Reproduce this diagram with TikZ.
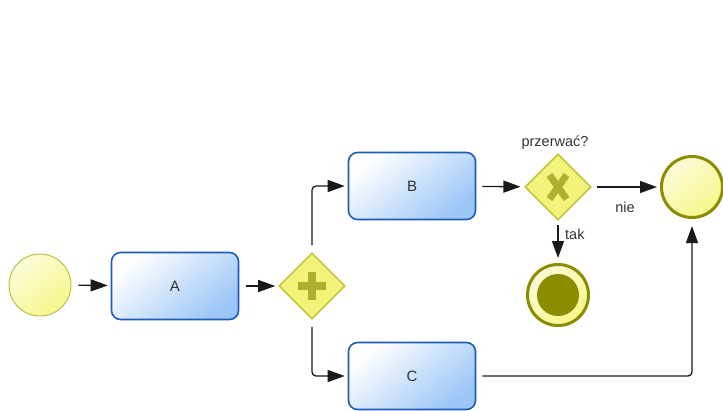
\documentclass[tikz,border=0pt]{standalone}
\usepackage{fontspec}
\setmainfont{Liberation Sans}
\usetikzlibrary{arrows.meta,shapes.geometric}
\definecolor{taskborder}{HTML}{1E5CB8}
\definecolor{taskfill}{HTML}{9CC6F7}
\definecolor{evfill}{HTML}{F6F68A}
\definecolor{evlight}{HTML}{FCFCDA}
\definecolor{evborder}{HTML}{8C8C00}
\definecolor{startborder}{HTML}{B8B840}
\definecolor{gwfill}{HTML}{F3F37C}
\definecolor{gwborder}{HTML}{C4C43C}
\definecolor{gwmark}{HTML}{B0B030}
\definecolor{linecol}{HTML}{1A1A1A}
\definecolor{txt}{HTML}{333333}
\tikzset{
  taskbox/.style={draw=taskborder, line width=1.6pt, rounded corners=9pt,
    minimum width=127pt, minimum height=67pt, inner sep=0pt,
    top color=white, bottom color=taskfill, shading angle=40,
    font=\fontsize{15}{17}\selectfont, text=txt},
  startev/.style={circle, draw=startborder, line width=0.9pt, minimum size=62pt, inner sep=0pt,
    top color=evlight, bottom color=evfill, shading angle=40},
  endev/.style={circle, draw=evborder, line width=3pt, minimum size=61pt, inner sep=0pt,
    top color=evlight, bottom color=evfill, shading angle=40},
  gw/.style={diamond, aspect=1, draw=gwborder, line width=1.6pt, minimum width=66pt, minimum height=66pt,
    inner sep=0pt, fill=gwfill},
  flow/.style={draw=linecol, line width=1.3pt, rounded corners=4pt, -{Triangle[length=17pt,width=12pt]}},
  lbl/.style={font=\fontsize{14.5}{16}\selectfont, text=txt, inner sep=0pt},
  gwsign/.style={draw=gwmark, line width=8pt}
}
\begin{document}
\begin{tikzpicture}[x=1pt,y=-1pt]
\useasboundingbox (0,0) rectangle (723,410);
% nodes
\node[startev] (start) at (40,285) {};
\node[taskbox] (A) at (175,286) {\raisebox{-2pt}{A}};
\node[gw] (pgw) at (312,286) {};
\node[taskbox] (B) at (412,186) {\raisebox{-2pt}{B}};
\node[taskbox] (C) at (412,376) {\raisebox{-2pt}{C}};
\node[gw] (xgw) at (558,187) {};
\node[endev] (endn) at (692,187) {};
\node[endev] (term) at (558,295) {};
\node[circle, fill=evborder, minimum size=42pt, inner sep=0pt] (termin) at (term) {};
% gateway markers
\draw[gwsign] (pgw.center) ++(-14,0) -- ++(28,0);
\draw[gwsign] (pgw.center) ++(0,-14) -- ++(0,28);
\draw[gwsign, line width=7pt] (xgw.center) ++(-8.5,-12) -- ++(17,24);
\draw[gwsign, line width=7pt] (xgw.center) ++(8.5,-12) -- ++(-17,24);
% labels
\node[lbl] (lq) at (555,143) {przerwać?};
\node[lbl] (lnie) at (625,207) {nie};
\node[lbl, anchor=west] (ltak) at (565,234) {tak};
% connectors
\draw[flow, shorten <=7pt, shorten >=3pt] (start) -- (A);
\draw[flow, shorten <=7pt, shorten >=3pt] (A) -- (pgw);
\draw[flow, shorten <=7pt, shorten >=3pt] (pgw.north) |- (B.west);
\draw[flow, shorten <=7pt, shorten >=3pt] (pgw.south) |- (C.west);
\draw[flow, shorten <=6pt, shorten >=4pt] (B) -- (xgw);
\draw[flow, shorten <=5pt, shorten >=3pt] (xgw) -- (endn);
\draw[flow, shorten <=4pt, shorten >=5pt] (xgw) -- (term);
\draw[flow, shorten <=6pt, shorten >=7pt] (C.east) -| (endn.south);
\end{tikzpicture}
\end{document}
